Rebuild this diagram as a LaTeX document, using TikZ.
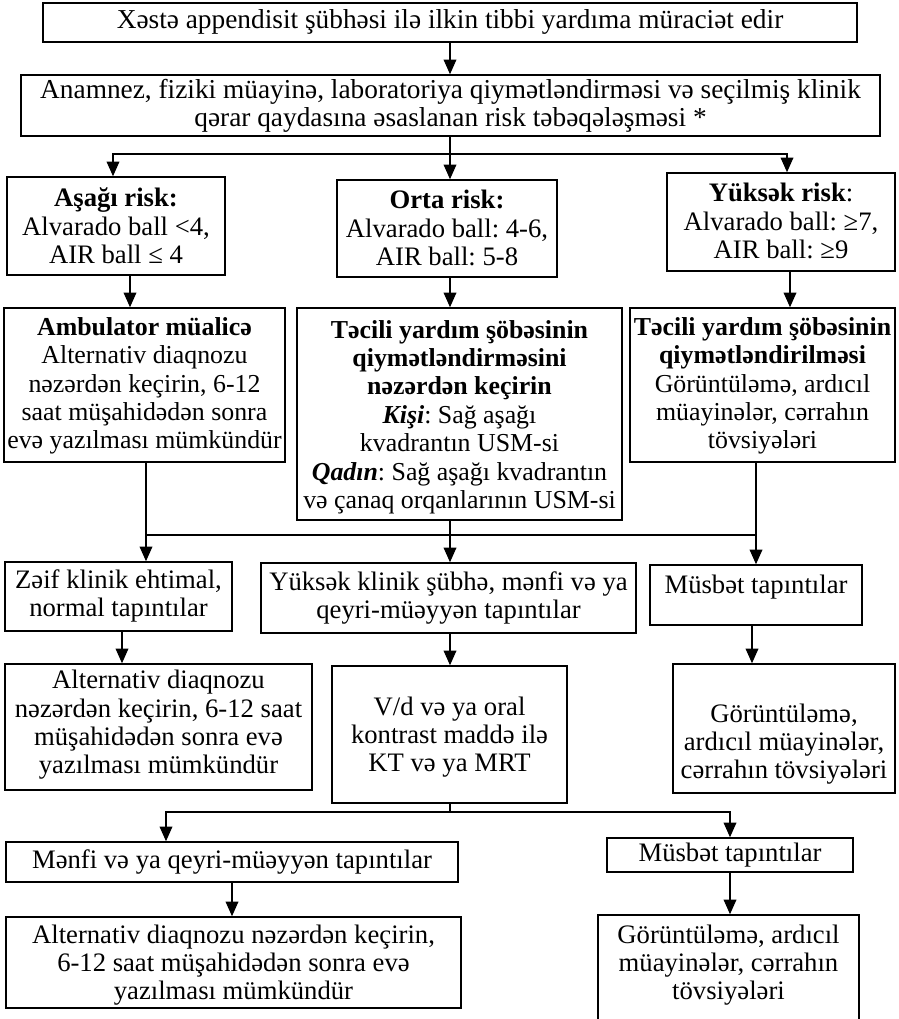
\documentclass[tikz,border=0pt]{standalone}
\usepackage{fontspec}
\setmainfont{Liberation Serif}
\frenchspacing
\usetikzlibrary{arrows.meta,calc}
\tikzset{
  box/.style={draw, line width=1.1pt, inner sep=0pt},
  txt/.style={align=center, inner sep=0pt, font=\fontsize{20}{21.2}\selectfont},
  bigtxt/.style={font=\fontsize{20.5}{21.4}\selectfont},
  smalltxt/.style={font=\fontsize{19.4}{21.3}\selectfont},
  arr/.style={line width=1.1pt, -{Triangle[length=11pt,width=9.5pt]}},
  ln/.style={line width=1.1pt},
}
% [text style], name, x1, y1, x2, y2, y of text centre, text
\newcommand\pbox[8][]{%
  \node[box, minimum width={(#5-#3)*0.75pt}, minimum height={(#6-#4)*0.75pt}] (#2) at ({(#3+#5)/2},{(#4+#6)/2}) {};
  \node[txt,#1] (#2-t) at ({(#3+#5)/2},#7) {#8};
}
\begin{document}
\begin{tikzpicture}[x=0.75pt,y=-0.75pt]
\useasboundingbox (0,0) rectangle (898,1019);
\clip (0,0) rectangle (898,1019);
\fill[white] (0,0) rectangle (898,1019);

\pbox[bigtxt]{b1}{43}{3}{857}{42}{22}{Xəstə appendisit şübhəsi ilə ilkin tibbi yardıma müraciət edir}
\pbox[bigtxt]{b2}{21}{75}{880}{136}{106}{Anamnez, fiziki müayinə, laboratoriya qiymətləndirməsi və seçilmiş klinik\\qərar qaydasına əsaslanan risk təbəqələşməsi *}

\pbox{low}{7}{177}{225}{275}{226}{\textbf{Aşağı risk:}\\Alvarado ball <4,\\AIR ball ≤ 4}
\pbox{mid}{337}{180}{557}{277}{228}{\textbf{Orta risk:}\\Alvarado ball: 4-6,\\AIR ball: 5-8}
\pbox{high}{667}{173}{895}{271}{221}{\textbf{Yüksək risk}:\\Alvarado ball: ≥7,\\AIR ball: ≥9}

\pbox[smalltxt]{amb}{4}{308}{285}{462}{386}{\textbf{Ambulator müalicə}\\Alternativ diaqnozu\\nəzərdən keçirin, 6-12\\saat müşahidədən sonra\\evə yazılması mümkündür}
\pbox[smalltxt]{ted}{297}{308}{622}{520}{417}{\textbf{Təcili yardım şöbəsinin}\\\textbf{qiymətləndirməsini}\\\textbf{nəzərdən keçirin}\\\textbf{\textit{Kişi}}: Sağ aşağı\\kvadrantın USM-si\\\textbf{\textit{Qadın}}: Sağ aşağı kvadrantın\\və çanaq orqanlarının USM-si}
\pbox[smalltxt]{teh}{630}{308}{895}{462}{386}{\textbf{Təcili yardım şöbəsinin}\\\textbf{qiymətləndirilməsi}\\Görüntüləmə, ardıcıl\\müayinələr, cərrahın\\tövsiyələri}

\pbox{zeif}{5}{562}{232}{631}{596}{Zəif klinik ehtimal,\\normal tapıntılar}
\pbox{yks}{261}{563}{636}{633}{598}{Yüksək klinik şübhə, mənfi və ya\\qeyri-müəyyən tapıntılar}
\pbox{mus1}{650}{565}{862}{625}{587}{Müsbət tapıntılar}

\pbox{alt1}{5}{664}{312}{790}{725}{Alternativ diaqnozu\\nəzərdən keçirin, 6-12 saat\\müşahidədən sonra evə\\yazılması mümkündür}
\pbox{vd}{332}{666}{567}{803}{737}{V/d və ya oral\\kontrast maddə ilə\\KT və ya MRT}
\pbox{gor1}{673}{664}{895}{793}{744}{Görüntüləmə,\\ardıcıl müayinələr,\\cərrahın tövsiyələri}

\pbox{menfi}{6}{842}{458}{882}{862}{Mənfi və ya qeyri-müəyyən tapıntılar}
\pbox{mus2}{607}{838}{853}{872}{855}{Müsbət tapıntılar}

\pbox{alt2}{6}{917}{461}{1008}{965}{Alternativ diaqnozu nəzərdən keçirin,\\6-12 saat müşahidədən sonra evə\\yazılması mümkündür}
\pbox{gor2}{598}{915}{859}{1030}{965}{Görüntüləmə, ardıcıl\\müayinələr, cərrahın\\tövsiyələri}

% junctions and arrow columns
\coordinate (j1) at (450,154);
\coordinate (xl) at (113,0);
\coordinate (xh) at (787,0);
\coordinate (xa) at (130,0);
\coordinate (xc) at (790,0);
\coordinate (xL) at (146,0);
\coordinate (xR) at (756,0);
\coordinate (m) at (450,535);
\coordinate (xz) at (122,0);
\coordinate (xm) at (752,0);
\coordinate (m2) at (450,812);
\coordinate (xb) at (166,0);

\draw[arr] (b1.south -| j1) -- (b2.north -| j1);
\draw[ln] (b2.south -| j1) -- (j1);
\draw[arr] (j1) -| (low.north -| xl);
\draw[arr] (j1) -- (mid.north -| j1);
\draw[arr] (j1) -| (high.north -| xh);

\draw[arr] (low.south -| xa) -- (amb.north -| xa);
\draw[arr] (mid.south -| j1) -- (ted.north -| j1);
\draw[arr] (high.south -| xc) -- (teh.north -| xc);

\draw[ln] (amb.south -| xL) -- (xL |- m) -- (xR |- m) -- (teh.south -| xR);
\draw[ln] (ted.south -| m) -- (m);
\draw[arr] (xL |- m) -- (zeif.north -| xL);
\draw[arr] (m) -- (yks.north -| m);
\draw[arr] (xR |- m) -- (mus1.north -| xR);

\draw[arr] (zeif.south -| xz) -- (alt1.north -| xz);
\draw[arr] (yks.south -| m) -- (vd.north -| m);
\draw[arr] (mus1.south -| xm) -- (gor1.north -| xm);

\draw[ln] (vd.south -| m2) -- (m2);
\draw[arr] (m2) -| (menfi.north -| xb);
\draw[arr] (m2) -| (mus2);

\draw[arr] (menfi) -- (menfi |- alt2.north);
\draw[arr] (mus2) -- (mus2 |- gor2.north);
\end{tikzpicture}
\end{document}
